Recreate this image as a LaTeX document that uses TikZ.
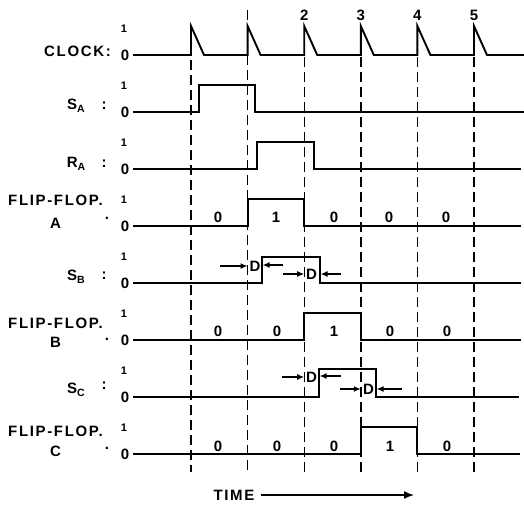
\documentclass[tikz,border=0pt]{standalone}
\usepackage{fontspec}
\setmainfont{Liberation Sans}[LetterSpace=11]
\usetikzlibrary{arrows.meta}
\newcommand{\mysub}[1]{\raisebox{-3.5pt}{\fontsize{10.5}{10.5}\selectfont #1}}
\newcommand{\sidedot}[1]{\rlap{\hspace{44pt}\raisebox{#1}{.}}}
\tikzset{
  wave/.style={line width=1.9pt, line join=miter},
  gridline/.style={line width=1.4pt, dash pattern=on 10pt off 5pt},
  lbl/.style={font=\fontsize{15}{15}\selectfont\bfseries, inner sep=0pt},
  fflbl/.style={font=\fontsize{15}{15}\selectfont\bfseries, inner sep=0pt, align=center, anchor=north east},
  val/.style={font=\fontsize{15}{15}\selectfont\bfseries, inner sep=0pt},
  onemark/.style={font=\fontsize{11}{11}\selectfont\bfseries, inner sep=0pt},
  darr/.style={line width=1.5pt, -{Latex[length=7pt,width=6pt]}},
}
\begin{document}
\begin{tikzpicture}[x=1pt,y=-1pt]
\useasboundingbox (0,0) rectangle (524,507);
% dashed time lines
\foreach \c/\t [count=\i] in {191/60,247.6/10,304.2/57,360.8/57,417.4/57,474/57} {
  \coordinate (g\i t) at (\c,\t);
  \coordinate (g\i b) at (\c,472);
  \draw[gridline] (g\i t) -- (g\i b);
}
% clock numbers
\node[val] (n2) at (304.2,15) {2};
\node[val] (n3) at (360.8,15) {3};
\node[val] (n4) at (417.4,15) {4};
\node[val] (n5) at (474,15) {5};
% clock waveform
\draw[wave] (133,55) foreach \c in {191,247.6,304.2,360.8,417.4,474} { -- (\c,55) -- (\c,26) -- (\c+13,55) } -- (524,55);
% waveforms
\draw[wave] (133,112) -- (199,112) -- (199,85) -- (255,85) -- (255,112) -- (524,112);
\draw[wave] (133,169) -- (257,169) -- (257,142) -- (314,142) -- (314,169) -- (521,169);
\draw[wave] (133,226) -- (247.6,226) -- (247.6,199) -- (304.2,199) -- (304.2,226) -- (521,226);
\draw[wave] (133,283) -- (262,283) -- (262,257) -- (320,257) -- (320,283) -- (521,283);
\draw[wave] (133,340) -- (304.2,340) -- (304.2,313) -- (360.8,313) -- (360.8,340) -- (521,340);
\draw[wave] (133,397) -- (319,397) -- (319,369) -- (376,369) -- (376,397) -- (519,397);
\draw[wave] (133,454) -- (360.8,454) -- (360.8,427) -- (417.4,427) -- (417.4,454) -- (520,454);
% axis marks
\foreach \b [count=\k] in {55,112,169,226,283,340,397,454} {
  \node[val] (z\k) at (125,\b) {0};
  \node[onemark] (o\k) at (124,\b-26) {1};
}
% row labels
\node[lbl, anchor=east] (clk) at (111,51) {CLOCK:};
\node[lbl] (sa) at (76,106) {S\mysub{A}};
\node[lbl] (sac) at (104,106) {:};
\node[lbl] (ra) at (76,164) {R\mysub{A}};
\node[lbl] (rac) at (104,164) {:};
\node[fflbl] (ffa) at (103,194.5) {FLIP-FLOP.\\[8pt]A\sidedot{9pt}};
\node[lbl] (sb) at (76,277) {S\mysub{B}};
\node[lbl] (sbc) at (104,276) {:};
\node[fflbl] (ffb) at (103,317.5) {FLIP-FLOP.\\[4pt]B\sidedot{7pt}};
\node[lbl] (sc) at (76,390) {S\mysub{C}};
\node[lbl] (scc) at (104,386) {:};
\node[fflbl] (ffc) at (103,425.5) {FLIP-FLOP.\\[5pt]C\sidedot{7pt}};
% flip-flop values
\foreach \x/\v [count=\i] in {218/0,276/1,334/0,389/0,446/0} {\node[val] (fa\i) at (\x,217) {\v};}
\foreach \x/\v [count=\i] in {218/0,277/0,334/1,390/0,447/0} {\node[val] (fb\i) at (\x,331) {\v};}
\foreach \x/\v [count=\i] in {218/0,277/0,334/0,390/1,447/0} {\node[val] (fc\i) at (\x,446) {\v};}
% delay markers S_B
\coordinate (b1s) at (220,266); \coordinate (b1e) at (247.6,266);
\coordinate (b1r) at (283,265); \coordinate (b1f) at (262.5,265);
\draw[darr] (b1s) -- (b1e); \draw[darr] (b1r) -- (b1f);
\node[val] (db1) at (255,266) {D};
\coordinate (b2s) at (283,274); \coordinate (b2e) at (304.2,274);
\coordinate (b2r) at (341,274); \coordinate (b2f) at (320.5,274);
\draw[darr] (b2s) -- (b2e); \draw[darr] (b2r) -- (b2f);
\node[val] (db2) at (311.5,274) {D};
% delay markers S_C
\coordinate (c1s) at (282,377); \coordinate (c1e) at (304.2,377);
\coordinate (c1r) at (341,376); \coordinate (c1f) at (319.5,376);
\draw[darr] (c1s) -- (c1e); \draw[darr] (c1r) -- (c1f);
\node[val] (dc1) at (311.5,377) {D};
\coordinate (c2s) at (340,389); \coordinate (c2e) at (360.8,389);
\coordinate (c2r) at (402,389); \coordinate (c2f) at (376.5,389);
\draw[darr] (c2s) -- (c2e); \draw[darr] (c2r) -- (c2f);
\node[val] (dc2) at (368.5,389) {D};
% time arrow
\node[lbl] (time) at (234,495) {TIME};
\coordinate (tend) at (414,495);
\draw[line width=1.5pt, -{Latex[length=10pt,width=8pt]}] (time.east) ++(6,0) -- (tend);
\end{tikzpicture}
\end{document}
